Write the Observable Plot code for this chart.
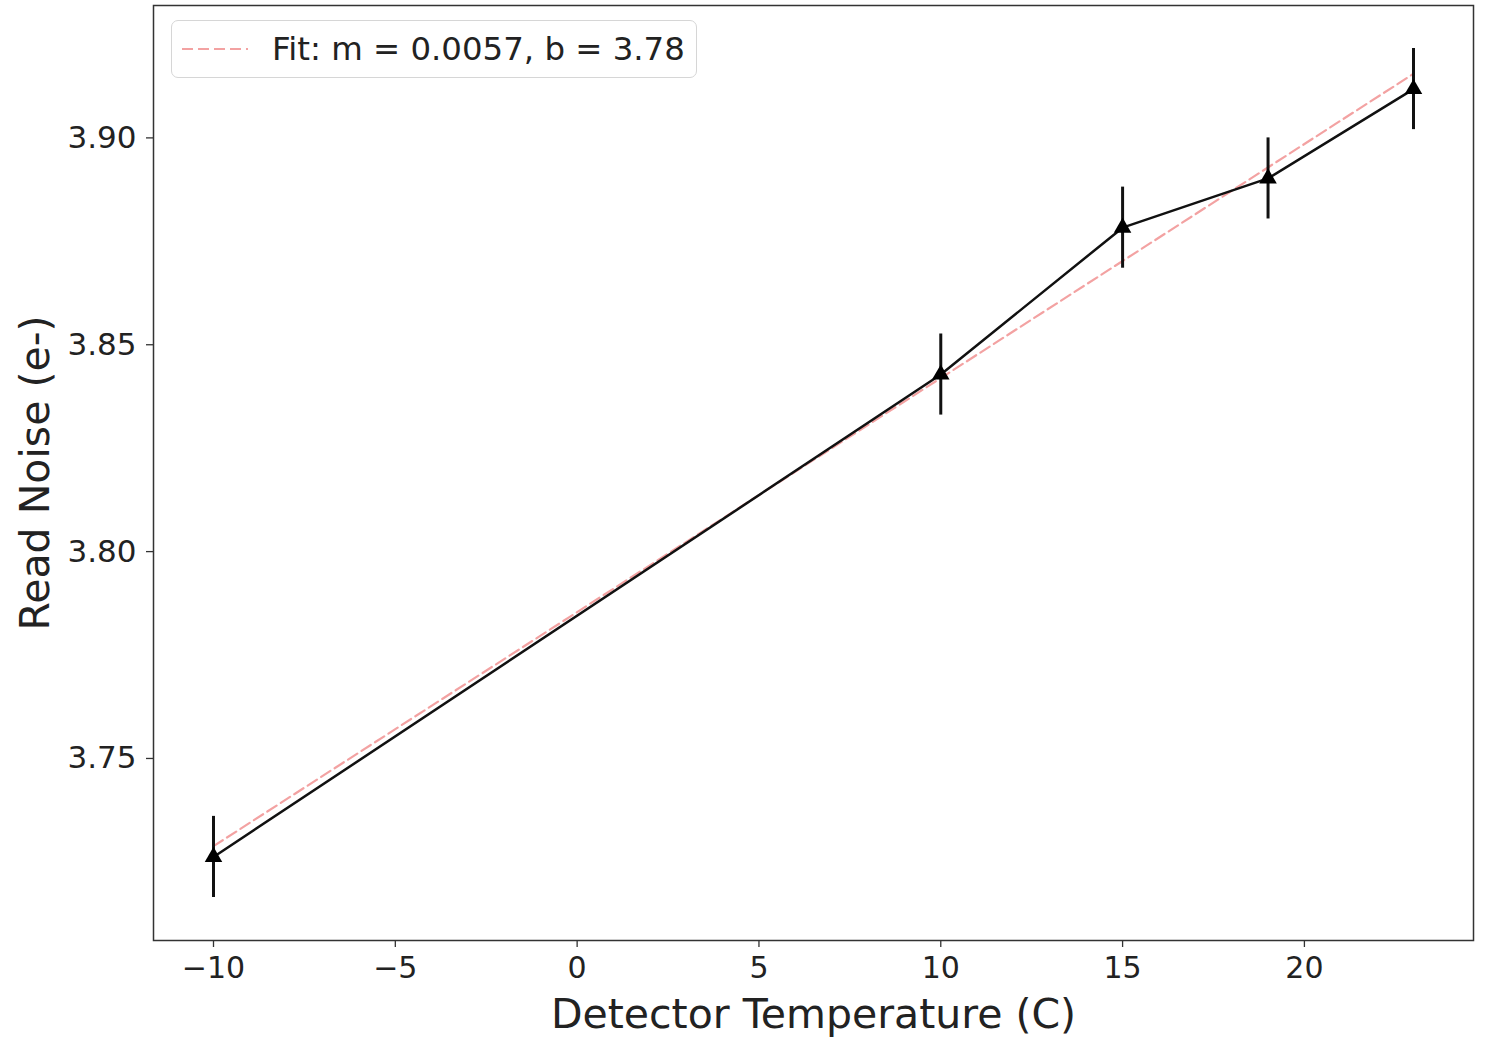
<!DOCTYPE html>
<html>
<head>
<meta charset="utf-8">
<script src="https://cdn.jsdelivr.net/npm/d3@7"></script>
<script src="https://cdn.jsdelivr.net/npm/@observablehq/plot@0.6"></script>
<style>
  html, body { margin: 0; padding: 0; background: #fff; }
  #wrap { position: relative; width: 1489px; height: 1037px; font-family: "DejaVu Sans", sans-serif; }
  #legend { position: absolute; left: 171px; top: 20px; width: 526px; height: 58px; box-sizing: border-box;
    border: 1.5px solid #d6d6d6; border-radius: 7px; background: rgba(255,255,255,0.85);
    display: flex; align-items: center; font-size: 32.4px; color: #222; }
  #legend svg { margin-left: 10px; margin-right: 24px; }
</style>
</head>
<body>
<div id="wrap"></div>
<script>
// Data
const temperature = [-10, 10, 15, 19, 23];
const readNoise = [3.7262, 3.8428, 3.8783, 3.8902, 3.9118];
const readNoiseErr = [0.0098, 0.0098, 0.0098, 0.0098, 0.0098];
const fitX = [-10, 23];
const fitY = [3.7288, 3.9155];
const fitLabel = "Fit: m = 0.0057, b = 3.78";
const xTicks = [-10, -5, 0, 5, 10, 15, 20];
const yTicks = [3.75, 3.80, 3.85, 3.90];
const xLabel = "Detector Temperature (C)";
const yLabel = "Read Noise (e-)";

const pts = temperature.map((t, i) => ({t, v: readNoise[i], lo: readNoise[i] - readNoiseErr[i], hi: readNoise[i] + readNoiseErr[i]}));
const fit = fitX.map((x, i) => ({x, y: fitY[i]}));

const chart = Plot.plot({
  width: 1489,
  height: 1037,
  marginLeft: 153,
  marginRight: 16,
  marginTop: 5,
  marginBottom: 97,
  style: {fontFamily: "DejaVu Sans, sans-serif", background: "white", color: "#222"},
  x: {domain: [-11.65, 24.65]},
  y: {domain: [3.706, 3.932]},
  marks: [
    Plot.line(fit, {x: "x", y: "y", stroke: "#f3a2a2", strokeWidth: 2.2, strokeDasharray: "11,5"}),
    Plot.line(pts, {x: "t", y: "v", stroke: "#111", strokeWidth: 2.5}),
    Plot.ruleX(pts, {x: "t", y1: "lo", y2: "hi", stroke: "#111", strokeWidth: 3}),
    Plot.dot(pts, {x: "t", y: "v", symbol: "triangle", fill: "#000", stroke: "none", r: 6.5}),
    Plot.frame({stroke: "#333", strokeWidth: 1.5}),
    Plot.axisX({ticks: xTicks, tickFormat: d3.format("d"), tickSize: 7, tickPadding: 9, fontSize: 30, label: null, stroke: "#333", strokeWidth: 1.3}),
    Plot.axisY({ticks: yTicks, tickFormat: d3.format(".2f"), tickSize: 7, tickPadding: 10, fontSize: 31, label: null, stroke: "#333", strokeWidth: 1.3}),
    Plot.text([xLabel], {text: d => d, frameAnchor: "bottom", dy: 74, lineAnchor: "middle", textAnchor: "middle", fontSize: 41, fill: "#222"}),
    Plot.text([yLabel], {text: d => d, frameAnchor: "left", dx: -118, rotate: -90, lineAnchor: "middle", textAnchor: "middle", fontSize: 41, fill: "#222"})
  ]
});

const wrap = document.getElementById("wrap");
wrap.appendChild(chart);

const legend = document.createElement("div");
legend.id = "legend";
legend.innerHTML = `<svg width="66" height="10"><line x1="0" y1="5" x2="66" y2="5" stroke="#f3a2a2" stroke-width="2.2" stroke-dasharray="11,5"/></svg><span></span>`;
legend.querySelector("span").textContent = fitLabel;
wrap.appendChild(legend);
</script>
</body>
</html>
